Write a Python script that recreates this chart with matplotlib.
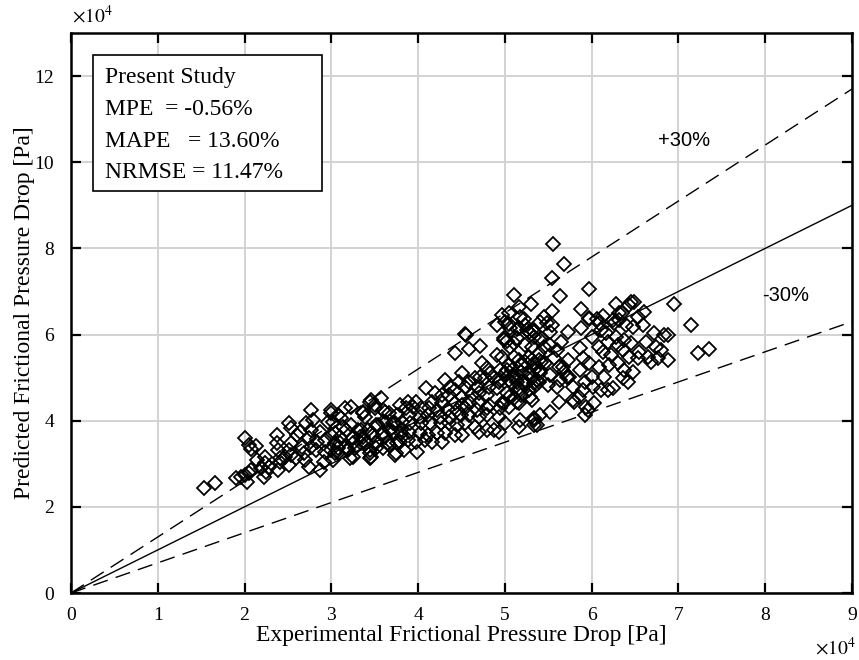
import numpy as np
import matplotlib
matplotlib.use("Agg")
import matplotlib.pyplot as plt
from matplotlib.patches import Rectangle

# Data, in units of 1e4 Pa: (experimental, predicted)
group_left = [
    (1.53, 2.44), (1.66, 2.55), (1.90, 2.67), (1.96, 2.69), (2.01, 2.74), (2.03, 2.58),
    (2.08, 2.86), (2.05, 2.79), (2.14, 3.09), (2.19, 2.90), (2.24, 3.16), (2.23, 3.02),
    (2.25, 2.81), (2.22, 2.69), (2.01, 3.60), (2.05, 3.44), (2.13, 3.41), (2.07, 3.34),
    (2.28, 2.92), (2.37, 3.67), (2.37, 3.48), (2.39, 3.32), (2.41, 3.13), (2.41, 3.04),
    (2.38, 2.86), (2.51, 3.95), (2.53, 3.83), (2.51, 3.32), (2.53, 3.48), (2.47, 3.16),
    (2.54, 3.20), (2.51, 2.97), (2.59, 3.13), (2.60, 3.67), (2.64, 3.74), (2.66, 3.39),
    (2.68, 3.25), (2.70, 3.09), (2.74, 2.92), (2.71, 3.95), (2.76, 4.25), (2.79, 4.02),
    (2.76, 3.78), (2.74, 3.60), (2.77, 3.39), (2.82, 3.32), (2.83, 3.51), (2.87, 3.74),
    (2.87, 2.86), (2.91, 3.04), (2.93, 3.27), (2.93, 3.55), (2.96, 3.97), (3.00, 4.18),
    (3.00, 3.67), (3.04, 3.48), (3.04, 3.25), (3.02, 3.09), (3.08, 3.37), (3.10, 3.62),
    (3.11, 4.06), (3.16, 4.29), (3.14, 3.85), (3.17, 3.39), (3.23, 4.32), (3.23, 3.90),
    (3.25, 3.60), (3.27, 3.37), (3.25, 3.16), (3.31, 3.78), (3.34, 3.48), (3.36, 4.18),
]
group_mid_left = [
    (3.00, 4.25), (3.08, 4.13), (3.02, 3.97), (3.34, 3.78), (3.04, 3.71), (3.17, 3.78),
    (3.10, 3.48), (3.25, 3.48), (3.40, 3.48), (3.33, 3.62), (3.46, 3.71), (3.00, 3.32),
    (3.19, 3.32), (3.44, 3.25), (3.46, 4.48), (3.57, 4.53), (3.50, 4.29), (3.39, 4.09),
    (3.62, 4.20), (3.59, 3.97), (3.51, 3.90), (3.71, 3.95), (3.68, 3.78), (3.62, 3.62),
    (3.67, 3.44), (3.76, 3.48), (3.82, 3.62), (3.84, 3.32), (3.99, 3.27), (3.80, 3.78),
    (3.08, 3.25), (3.21, 3.13), (3.44, 3.13), (3.51, 3.37), (3.73, 3.20),
]
group_center = [
    (4.91, 6.22), (5.05, 6.24), (5.16, 6.15), (5.23, 6.22), (5.28, 6.06), (5.31, 6.11),
    (5.34, 5.94), (4.54, 6.01), (4.99, 5.92), (5.02, 5.85), (5.11, 5.80), (5.23, 5.76),
    (5.31, 5.71), (4.71, 5.73), (4.59, 5.66), (4.42, 5.57), (4.91, 5.52), (4.74, 5.34),
    (5.05, 5.29), (5.16, 5.41), (5.23, 5.36), (5.31, 5.41), (5.39, 5.41), (4.51, 5.11),
    (4.79, 5.22), (4.83, 5.11), (4.94, 5.18), (5.00, 5.11), (5.08, 5.18), (5.11, 5.06),
    (5.19, 5.13), (5.28, 5.11), (5.34, 5.18), (4.31, 4.94), (4.47, 4.90), (4.59, 4.90),
    (4.66, 4.99), (4.71, 5.01), (4.77, 4.99), (4.87, 4.99), (4.93, 4.90), (5.05, 4.94),
    (5.14, 4.90), (5.23, 4.90), (5.31, 4.99), (5.37, 4.94), (4.09, 4.76), (4.37, 4.78),
    (4.43, 4.71), (4.54, 4.78), (4.68, 4.78), (4.82, 4.78), (4.91, 4.76), (5.16, 4.76),
    (5.28, 4.71), (5.34, 4.78), (4.20, 4.64), (4.28, 4.60), (4.36, 4.60), (4.51, 4.55),
    (4.62, 4.60), (4.70, 4.64), (4.79, 4.60), (5.05, 4.55), (5.11, 4.53), (5.19, 4.60),
    (5.31, 4.48), (3.88, 4.43), (3.97, 4.43), (4.16, 4.43), (4.28, 4.41), (4.42, 4.41),
    (4.51, 4.36), (4.59, 4.43), (4.70, 4.41), (4.82, 4.36), (4.97, 4.41), (5.05, 4.32),
    (5.16, 4.41), (3.44, 4.43), (3.50, 4.36), (3.79, 4.36), (3.86, 4.29), (3.94, 4.32),
    (4.03, 4.29), (4.13, 4.29), (4.22, 4.25), (4.34, 4.27), (4.45, 4.25), (4.54, 4.29),
    (4.68, 4.25), (4.79, 4.29), (4.94, 4.29), (3.36, 4.20), (3.59, 4.25), (3.67, 4.18),
    (3.76, 4.13), (3.90, 4.13), (4.02, 4.09), (4.11, 4.13), (4.25, 4.09), (4.36, 4.09),
    (4.49, 4.13), (4.59, 4.13), (4.70, 4.09), (4.79, 4.13), (4.93, 4.09), (5.17, 4.02),
    (5.33, 4.06), (5.37, 3.90), (3.42, 3.78), (3.54, 3.90), (3.63, 3.97), (3.73, 3.95),
    (3.82, 3.97), (3.91, 3.95), (4.03, 3.95), (4.14, 3.95), (4.26, 3.95), (4.36, 3.95),
    (4.45, 3.90), (4.54, 3.95), (4.65, 3.85), (4.79, 3.78), (4.87, 3.78), (5.00, 3.95),
    (5.16, 3.85), (3.36, 3.62), (3.48, 3.67), (3.59, 3.71), (3.71, 3.74), (3.80, 3.71),
    (3.90, 3.74), (4.02, 3.71), (4.11, 3.67), (4.22, 3.71), (4.31, 3.71), (4.42, 3.67),
    (4.51, 3.67), (4.70, 3.74), (3.51, 3.48), (3.65, 3.48), (3.79, 3.51), (3.88, 3.55),
    (3.97, 3.51), (4.08, 3.55), (4.16, 3.51), (4.28, 3.51), (3.44, 3.32), (3.59, 3.37),
    (3.74, 3.25), (3.46, 3.16),
]
group_upper = [
    (5.56, 8.10), (5.68, 7.64), (5.54, 7.31), (5.63, 6.89), (5.97, 7.06), (5.11, 6.92),
    (5.16, 6.64), (5.30, 6.71), (4.97, 6.45), (5.05, 6.50), (5.22, 6.36), (5.14, 6.13),
    (5.54, 6.55), (5.45, 6.41), (5.48, 6.27), (5.54, 6.22), (5.88, 6.59), (5.97, 6.36),
    (6.06, 6.36), (6.13, 6.43), (6.25, 6.34), (6.28, 6.71), (6.32, 6.50), (6.45, 6.75),
    (4.55, 5.99), (6.49, 6.75), (6.95, 6.71), (7.14, 6.22),
]
group_right = [
    (5.52, 6.06), (5.40, 5.87), (5.45, 5.71), (5.39, 5.57), (5.42, 5.36), (5.40, 5.18),
    (5.39, 4.90), (5.40, 4.13), (5.52, 4.20), (5.62, 4.43), (5.73, 6.06), (5.65, 5.83),
    (5.60, 5.64), (5.57, 5.46), (5.62, 5.25), (5.68, 5.13), (5.63, 4.94), (5.73, 5.41),
    (5.74, 5.01), (5.79, 4.78), (5.79, 4.48), (5.85, 4.55), (5.88, 6.15), (5.86, 5.69),
    (5.90, 5.46), (5.86, 5.18), (5.92, 4.90), (5.90, 4.71), (5.94, 4.32), (5.92, 4.13),
    (5.97, 6.38), (6.00, 5.94), (5.97, 5.34), (6.00, 5.01), (6.02, 4.78), (6.03, 4.41),
    (6.08, 6.27), (6.11, 6.11), (6.08, 5.71), (6.13, 5.59), (6.09, 5.25), (6.14, 5.01),
    (6.11, 4.71), (6.19, 4.71), (6.25, 4.76), (6.17, 6.04), (6.19, 5.83), (6.22, 5.52),
    (6.20, 5.29), (6.35, 6.50), (6.26, 6.27), (6.32, 6.34), (6.28, 5.94), (6.37, 5.87),
    (6.30, 5.76), (6.36, 5.64), (6.30, 5.34), (6.37, 5.18), (6.36, 4.99), (6.43, 6.69),
    (6.40, 6.22), (6.48, 6.17), (6.45, 5.80), (6.43, 5.48), (6.48, 5.13), (6.42, 4.90),
    (6.53, 6.41), (6.60, 6.52), (6.59, 6.22), (6.54, 5.59), (6.63, 5.83), (6.65, 5.48),
    (6.68, 5.36), (6.53, 5.46), (6.72, 6.04), (6.74, 5.71), (6.80, 5.64), (6.83, 5.99),
    (6.88, 5.99), (6.77, 5.46), (6.88, 5.41), (7.22, 5.57), (7.35, 5.66),
]
group_dense = [
    (5.00, 6.29), (5.17, 6.41), (5.06, 6.15), (5.25, 6.11), (5.33, 6.06), (5.14, 5.92),
    (4.99, 5.87), (5.40, 6.29), (5.42, 5.92), (5.06, 5.71), (4.97, 5.48), (5.11, 5.48),
    (5.28, 5.48), (5.52, 5.76), (5.19, 5.29), (5.34, 5.34), (5.46, 5.34), (5.02, 5.18),
    (5.11, 5.01), (5.28, 5.06), (5.40, 5.11), (5.52, 5.06), (4.94, 4.94), (5.08, 4.87),
    (5.23, 4.83), (5.34, 4.87), (5.50, 4.83), (5.02, 4.64), (5.17, 4.71), (5.29, 4.55),
    (5.14, 4.43), (4.99, 4.41), (5.60, 4.78), (5.71, 5.01), (5.67, 5.25), (5.34, 4.02),
    (5.96, 4.25), (4.93, 3.74), (5.80, 4.43), (5.34, 3.90),
]

stats_title = "Present Study"
stats_lines = ["MPE  = -0.56%", "MAPE   = 13.60%", "NRMSE = 11.47%"]
band_labels = ["+30%", "-30%"]
band_factors = [1.3, 0.7]
x_ticks = list(range(0, 10))
y_ticks = list(range(0, 14, 2))

pts = np.array(group_left + group_mid_left + group_center + group_upper + group_right + group_dense)
exp_dp = pts[:, 0]
pred_dp = pts[:, 1]

serif = ["Liberation Serif", "DejaVu Serif"]
sans = ["Liberation Sans", "DejaVu Sans"]

fig = plt.figure(figsize=(8.59, 6.6), dpi=100)
L, R, T, B = 71, 852, 33, 593
ax = fig.add_axes([L / 859, 1 - B / 660, (R - L) / 859, (B - T) / 660])
AW, AH = R - L, B - T

ax.grid(True, color="#d2d2d2", linewidth=1.4, zorder=0)
ax.set_axisbelow(True)

ax.plot(exp_dp, pred_dp, linestyle="none", marker="D", markersize=6.8,
        markerfacecolor="none", markeredgecolor="black", markeredgewidth=1.3, zorder=3)

xl = np.array([0, 9])
ax.plot(xl, xl, color="black", linewidth=1.0, zorder=4)
for f in band_factors:
    ax.plot(xl, f * xl, color="black", linewidth=1.0, linestyle=(0, (11, 6)), zorder=4)

ax.text(7.07, 10.5, band_labels[0], fontsize=14.5, family=sans, ha="center", va="center")
ax.text(8.24, 6.9, band_labels[1], fontsize=14.5, family=sans, ha="center", va="center")

ax.set_xlim(0, 9)
ax.set_ylim(0, 13)
ax.set_xticks(x_ticks)
ax.set_yticks(y_ticks)
ax.set_xticklabels([str(t) for t in x_ticks], family=serif, fontsize=14)
ax.set_yticklabels([str(t) for t in y_ticks], family=serif, fontsize=14)
ax.tick_params(direction="in", length=7, width=1.6, top=True, right=True, pad=12, colors="black")
ax.tick_params(axis="x", pad=10)
for s in ax.spines.values():
    s.set_linewidth(1.8)

ax.set_xlabel("Experimental Frictional Pressure Drop [Pa]", family=serif, fontsize=17, labelpad=1)
ax.set_ylabel("Predicted Frictional Pressure Drop [Pa]", family=serif, fontsize=17, labelpad=0)

fig.text(72 / 859, 1 - 16 / 660, r"$\times10^{4}$", fontsize=14, family=serif, ha="left", va="center",
         math_fontfamily="stix")
fig.text(856 / 859, 1 - 648 / 660, r"$\times10^{4}$", fontsize=14, family=serif, ha="right", va="center",
         math_fontfamily="stix")

# statistics box
ax.add_patch(Rectangle(((93 - L) / AW, (B - 191) / AH), (322 - 93) / AW, (191 - 55) / AH,
                       transform=ax.transAxes, facecolor="white", edgecolor="black",
                       linewidth=1.2, zorder=6))
box_lines = [stats_title] + stats_lines
base_py = [83, 115, 147, 178]
for line, py in zip(box_lines, base_py):
    ax.text((105 - L) / AW, (B - py) / AH, line, transform=ax.transAxes,
            family=serif, fontsize=17, ha="left", va="baseline", zorder=7)

fig.savefig("out.png", dpi=100)
